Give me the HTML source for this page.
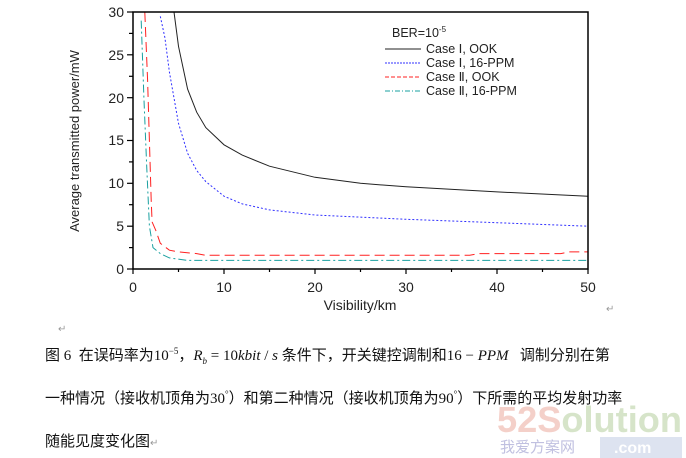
<!DOCTYPE html>
<html><head><meta charset="utf-8"><style>
body{margin:0;background:#fff;width:686px;height:458px;overflow:hidden;position:relative;font-family:"Liberation Sans","Noto Sans CJK SC",sans-serif}
.cap{position:absolute;left:45px;font-size:15px;color:#111;white-space:nowrap;font-family:"Liberation Serif","Noto Sans CJK SC",serif}
</style></head><body>
<svg width="686" height="458" style="position:absolute;left:0;top:0" font-family="Liberation Sans, sans-serif">
<g fill="none" stroke-width="1">
<polyline stroke="#222" points="174,12 178.5,46.3 187.6,89.1 196.7,112.2 205.8,127.6 224,144.8 242.2,155.1 269.5,166.2 315,177.3 360.5,183.3 406,186.8 497,191.9 588,196.2"/>
<polyline stroke="#3030ff" stroke-dasharray="2,2" points="160.3,16.3 164.9,37.7 169.4,72 178.5,123.4 187.6,153.3 196.7,170.5 205.8,181.6 224,196.2 242.2,203.9 269.5,209.9 315,215 406,219.3 497,222.7 588,226.2"/>
<polyline stroke="#ff2020" stroke-dasharray="10,5" points="144.8,12 147.6,80.5 149.4,140.5 151.2,200.5 152.1,221.9 155.8,230.4 160.3,243.3 169.4,250.2 178.5,251.9 196.7,253.6 205.8,255.3 469.7,255.3 478.8,253.6 560.7,253.6 569.8,251.9 588,251.9"/>
<polyline stroke="#1aa0a0" stroke-dasharray="8,3,2,3" points="141.2,20.6 143.9,97.7 146.7,166.2 149.4,226.2 153,247.6 160.3,253.6 169.4,257.9 187.6,260.4 588,260.4"/>
</g>
<rect x="133" y="12" width="455" height="257" fill="none" stroke="#000" stroke-width="1.5"/>
<g stroke="#000" stroke-width="1.2">
<line x1="133" y1="269" x2="133" y2="274"/><line x1="224" y1="269" x2="224" y2="274"/><line x1="315" y1="269" x2="315" y2="274"/><line x1="406" y1="269" x2="406" y2="274"/><line x1="497" y1="269" x2="497" y2="274"/><line x1="588" y1="269" x2="588" y2="274"/>
<line x1="178.5" y1="269" x2="178.5" y2="272"/><line x1="269.5" y1="269" x2="269.5" y2="272"/><line x1="360.5" y1="269" x2="360.5" y2="272"/><line x1="451.5" y1="269" x2="451.5" y2="272"/><line x1="542.5" y1="269" x2="542.5" y2="272"/>
<line x1="127" y1="12" x2="133" y2="12"/><line x1="127" y1="54.8" x2="133" y2="54.8"/><line x1="127" y1="97.7" x2="133" y2="97.7"/><line x1="127" y1="140.5" x2="133" y2="140.5"/><line x1="127" y1="183.3" x2="133" y2="183.3"/><line x1="127" y1="226.2" x2="133" y2="226.2"/><line x1="127" y1="269" x2="133" y2="269"/>
<line x1="129" y1="33.4" x2="133" y2="33.4"/><line x1="129" y1="76.3" x2="133" y2="76.3"/><line x1="129" y1="119.1" x2="133" y2="119.1"/><line x1="129" y1="161.9" x2="133" y2="161.9"/><line x1="129" y1="204.7" x2="133" y2="204.7"/><line x1="129" y1="247.6" x2="133" y2="247.6"/>
</g>
<g font-size="14" fill="#222" text-anchor="end">
<text x="124" y="17">30</text><text x="124" y="60">25</text><text x="124" y="103">20</text><text x="124" y="145">15</text><text x="124" y="188">10</text><text x="124" y="231">5</text><text x="124" y="274">0</text>
</g>
<g font-size="14" fill="#222" text-anchor="middle">
<text x="133" y="292">0</text><text x="224" y="292">10</text><text x="315" y="292">20</text><text x="406" y="292">30</text><text x="497" y="292">40</text><text x="588" y="292">50</text>
<text x="360" y="310">Visibility/km</text>
<text transform="translate(79,141) rotate(-90)" font-size="13">Average transmitted power/mW</text>
</g>
<g font-size="12.5" fill="#222">
<text x="392" y="37">BER=10<tspan font-size="8" dy="-5">-5</tspan></text>
<text x="426" y="53">Case  Ⅰ, OOK</text>
<text x="426" y="67">Case  Ⅰ, 16-PPM</text>
<text x="426" y="81">Case  Ⅱ, OOK</text>
<text x="426" y="95">Case  Ⅱ, 16-PPM</text>
</g>
<line x1="385" y1="49" x2="421" y2="49" stroke="#222"/>
<line x1="385" y1="63" x2="421" y2="63" stroke="#3030ff" stroke-dasharray="2,1"/>
<line x1="385" y1="77" x2="421" y2="77" stroke="#ff2020" stroke-dasharray="4,2"/>
<line x1="385" y1="91" x2="421" y2="91" stroke="#1aa0a0" stroke-dasharray="5,2,1,2"/>
<text x="606" y="312" font-size="10" fill="#999">↵</text>
<text x="58" y="332" font-size="10" fill="#999">↵</text>
<rect x="600" y="437" width="82" height="21" fill="#dde3f0"/>
<text x="497" y="432" font-size="36" fill="#f3c8c0" font-weight="bold" textLength="185" lengthAdjust="spacingAndGlyphs" opacity="0.85">52S<tspan fill="#cfe0c0">olution</tspan></text>
<text x="500" y="452" font-size="15" fill="#c0c0e0" font-family="Noto Sans CJK SC">我爱方案网</text>
<text x="614" y="453" font-size="16" fill="#fff" font-weight="bold">.com</text>
</svg>
<div class="cap" style="top:344px">图 6&nbsp;&nbsp;在误码率为10<sup style="font-size:9px">−5</sup>，<i>R<sub style="font-size:9px">b</sub></i> = 10<i>kbit</i> / <i>s</i> 条件下，开关键控调制和16 − <i>PPM</i>&nbsp;&nbsp;&nbsp;调制分别在第</div>
<div class="cap" style="top:387px">一种情况（接收机顶角为30<sup style="font-size:9px">°</sup>）和第二种情况（接收机顶角为90<sup style="font-size:9px">°</sup>）下所需的平均发射功率</div>
<div class="cap" style="top:430px">随能见度变化图<span style="color:#999;font-size:10px">↵</span></div>
</body></html>
